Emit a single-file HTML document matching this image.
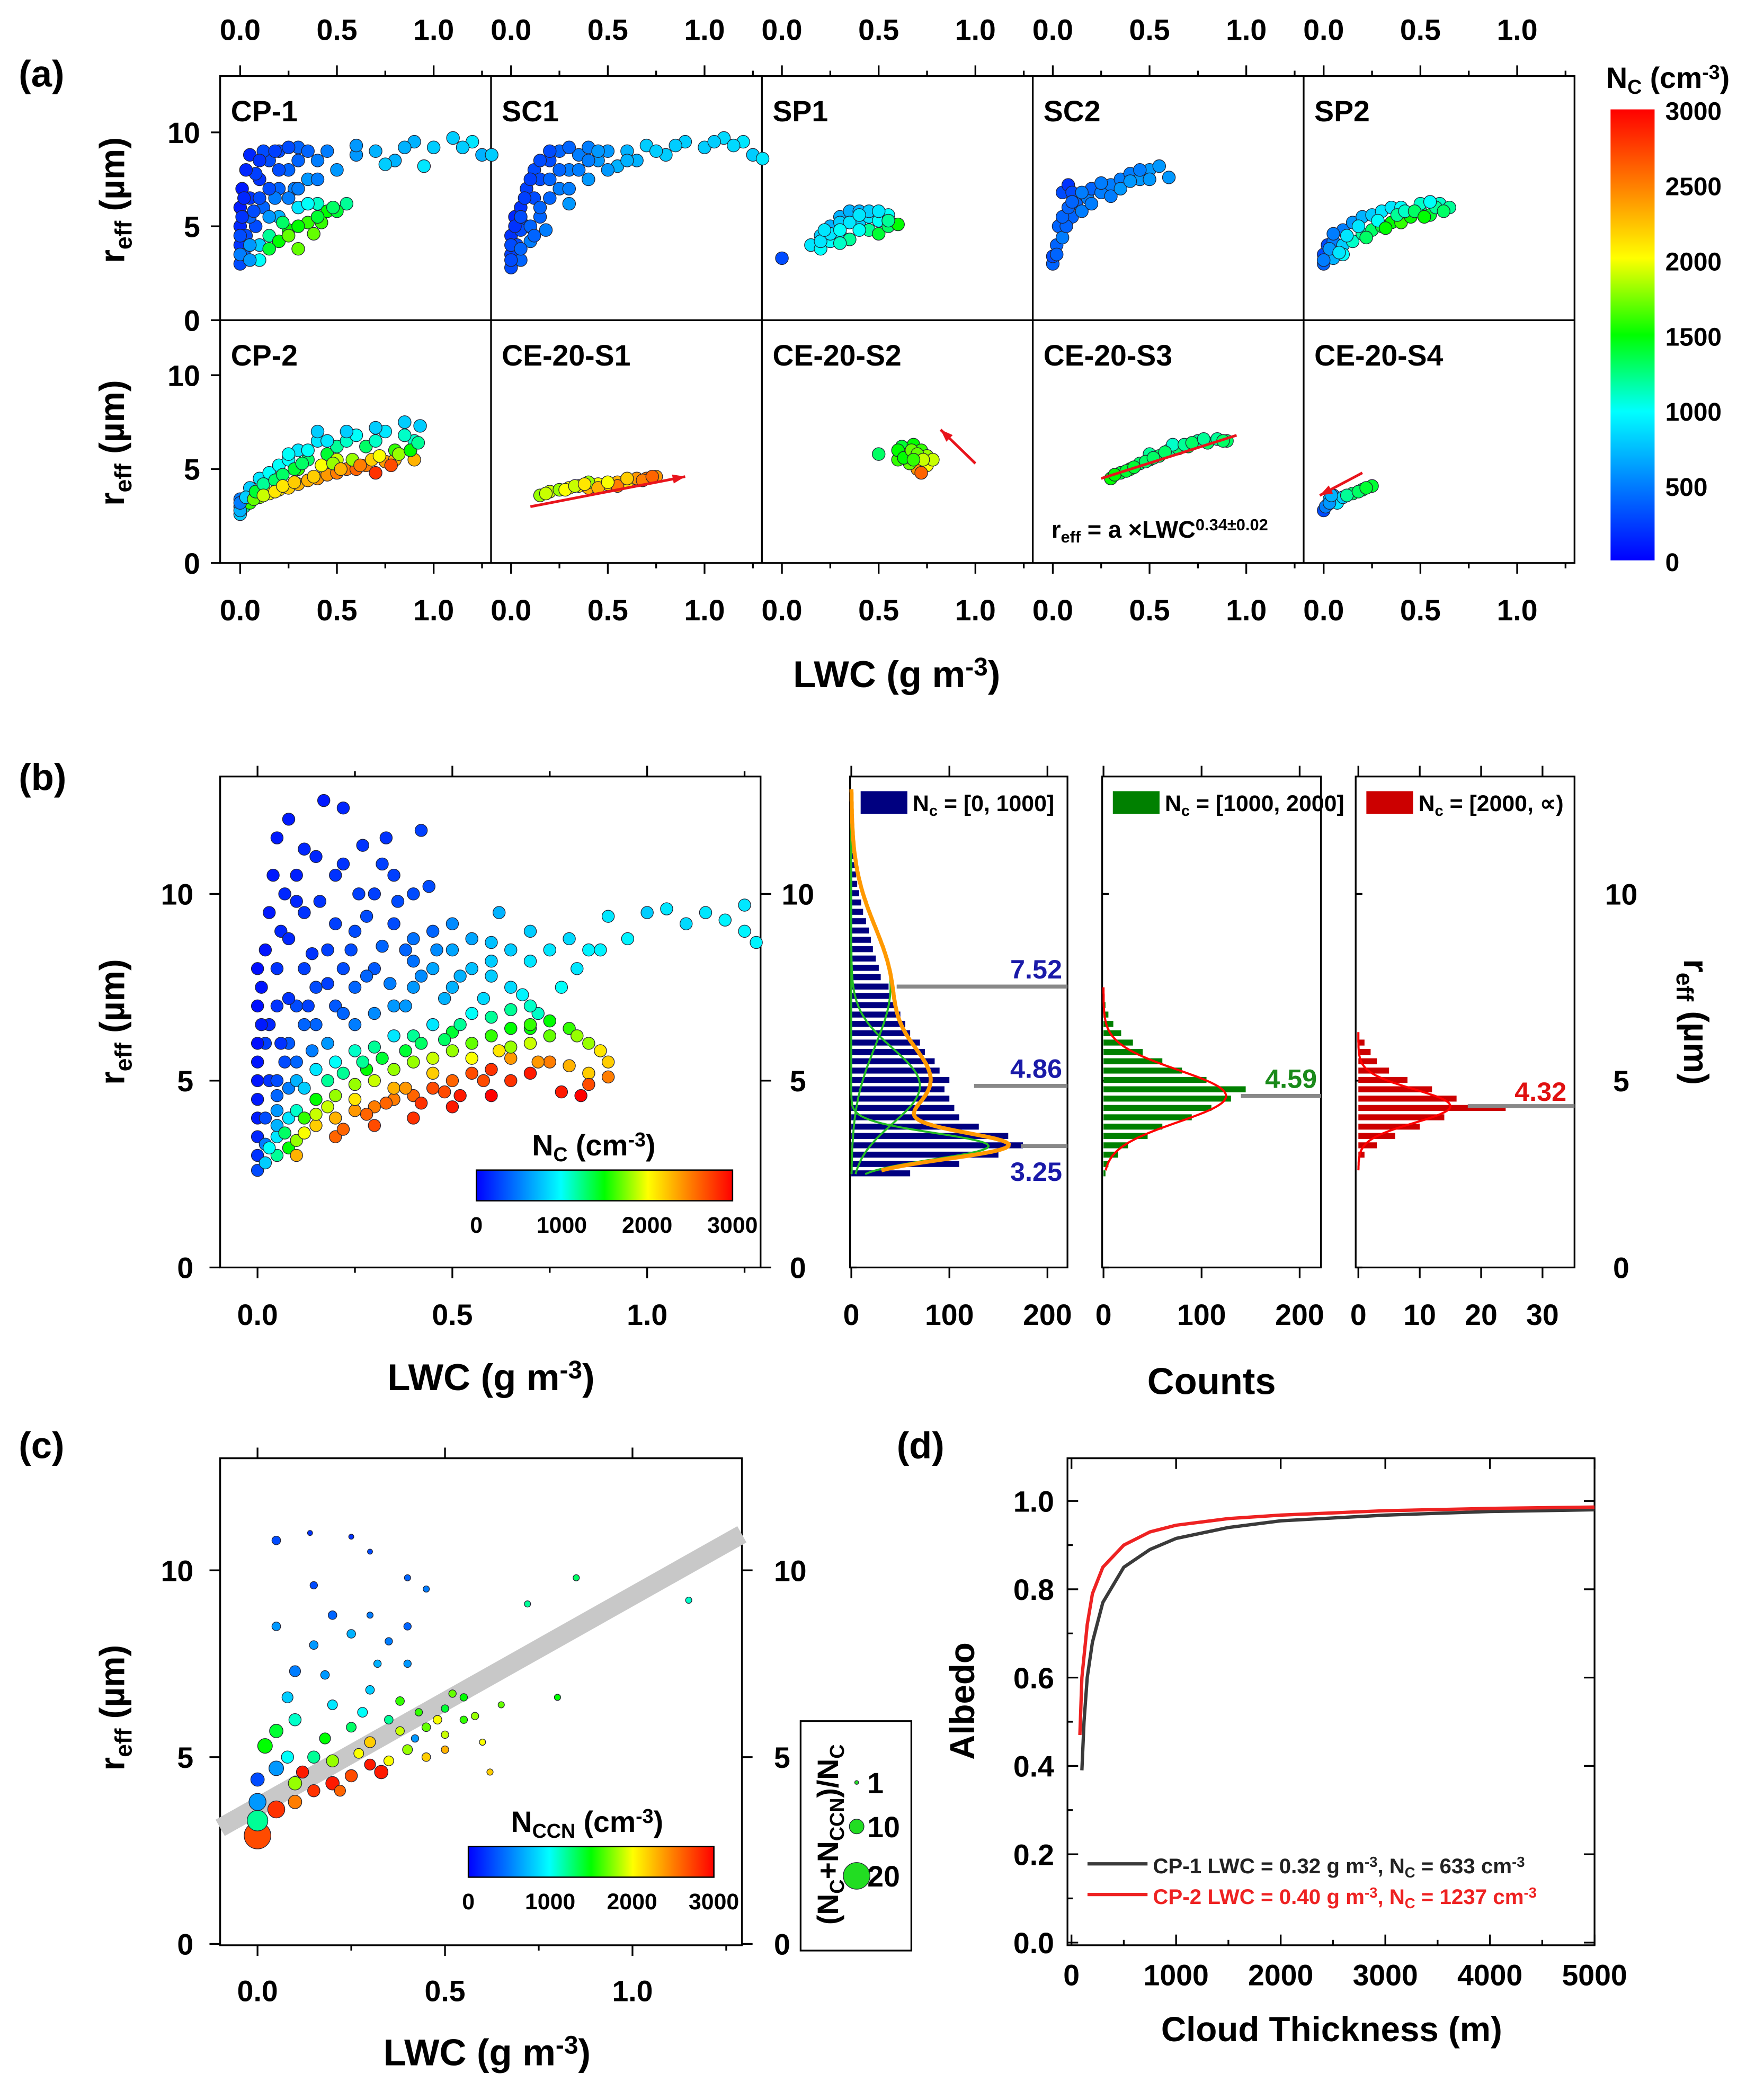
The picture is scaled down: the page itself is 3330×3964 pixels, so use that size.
<!DOCTYPE html>
<html><head><meta charset="utf-8"><style>
html,body{margin:0;padding:0;background:#fff;}
svg{display:block;font-family:"Liberation Sans",Arial,sans-serif;font-weight:bold;}
</style></head><body>
<svg id="chart" width="3330" height="3964" viewBox="0 0 1322 1574" preserveAspectRatio="none" xmlns="http://www.w3.org/2000/svg">
<defs>
<linearGradient id="jetV" x1="0" y1="1" x2="0" y2="0">
<stop offset="0" stop-color="#0000ff"/><stop offset="0.17" stop-color="#0080ff"/><stop offset="0.33" stop-color="#00ffff"/><stop offset="0.5" stop-color="#00ff00"/><stop offset="0.67" stop-color="#ffff00"/><stop offset="0.83" stop-color="#ff8000"/><stop offset="1" stop-color="#ff0000"/>
</linearGradient>
<linearGradient id="jetH" x1="0" y1="0" x2="1" y2="0">
<stop offset="0" stop-color="#0000ff"/><stop offset="0.17" stop-color="#0080ff"/><stop offset="0.33" stop-color="#00ffff"/><stop offset="0.5" stop-color="#00ff00"/><stop offset="0.67" stop-color="#ffff00"/><stop offset="0.83" stop-color="#ff8000"/><stop offset="1" stop-color="#ff0000"/>
</linearGradient>
</defs>
<rect x="0" y="0" width="1322" height="1574" fill="#fff"/>
</svg>
<script>
// ---------- DATA ----------
const panelANames=["CP-1","SC1","SP1","SC2","SP2","CP-2","CE-20-S1","CE-20-S2","CE-20-S3","CE-20-S4"];
const aCP1=[[0.0,3,300],[0.0,4,200],[0.0,5,150],[0.0,6,100],[0.01,7,100],[0.02,3.5,400],[0.03,4.5,300],[0.05,6.5,200],[0.05,8.8,150],[0.08,5,300],[0.1,7.5,200],[0.1,4,800],[0.12,6,400],[0.15,8.5,300],[0.15,4.5,1200],[0.2,5.5,700],[0.2,7,400],[0.2,9,300],[0.25,4.8,1500],[0.25,8,400],[0.3,6,900],[0.3,9.2,400],[0.35,5.2,1600],[0.35,7.5,600],[0.4,8.5,500],[0.4,6.2,1100],[0.45,5.8,1500],[0.45,9,500],[0.5,8,600],[0.55,6.2,1200],[0.6,8.8,600],[0.7,9,700],[0.8,8.5,700],[0.9,9.5,700],[1.0,9.2,800],[1.1,9.7,800],[1.2,9.5,900],[1.25,8.8,700],[0.95,8.2,900],[0.3,3.8,1700],[0.1,3.2,1000],[0.05,5.5,400],[0.18,6.5,500],[0.28,7,500],[0.38,4.6,1700],[0.42,5.2,1600],[0.5,5.8,1400],[0.08,7.8,250],[0.12,9,300],[0.22,5.2,1300],
[0.0,3.5,500],[0.0,4.5,300],[0.01,5.5,200],[0.02,6.5,150],[0.03,8,150],[0.05,4,600],[0.07,5.8,300],[0.1,6.5,300],[0.1,8.5,200],[0.15,7,300],[0.15,5.5,600],[0.18,9,250],[0.2,8,300],[0.25,6.5,500],[0.25,9.2,300],[0.3,8.5,400],[0.3,7,500],[0.35,9,400],[0.35,6.2,1000],[0.4,7.5,500],[0.2,4.2,1500],[0.25,4.5,1700],[0.3,5,1500],[0.4,5.5,1400],[0.48,6,1300],[0.15,3.8,1400],[0.6,9.3,600],[0.75,8.3,800],[0.85,9.2,700],[1.15,9.2,800],[1.3,8.8,800],[0.05,3.2,600]];
const aSC1=[[0.0,2.8,300],[0.0,3.5,250],[0.0,4.5,200],[0.02,5.5,150],[0.03,4,300],[0.05,3.2,400],[0.05,6,200],[0.08,5,300],[0.08,7,250],[0.1,4.2,500],[0.12,6.5,300],[0.12,8,300],[0.15,5.5,400],[0.15,7.5,300],[0.2,6.5,400],[0.2,8.5,300],[0.25,7,500],[0.25,9,400],[0.3,8,500],[0.3,6.2,600],[0.35,8.8,500],[0.4,7.5,600],[0.4,9.2,500],[0.45,8.5,600],[0.5,9,600],[0.55,8.2,700],[0.6,9,700],[0.7,9.3,800],[0.8,8.8,800],[0.9,9.5,800],[1.0,9.2,800],[1.1,9.7,850],[1.2,9.5,900],[1.25,8.8,800],[0.65,8.5,700],[0.18,4.8,500],[0.05,4.8,300],
[0.0,3.2,300],[0.0,4,300],[0.02,5,200],[0.05,5.5,300],[0.07,6.5,250],[0.1,7.5,250],[0.1,5,400],[0.15,8.5,300],[0.15,6,400],[0.2,9,300],[0.2,7.5,400],[0.25,8,400],[0.3,9.2,400],[0.3,7,500],[0.35,8,500],[0.4,8.5,500],[0.45,9,600],[0.5,8,600],[0.6,8.5,700],[0.75,9,800],[0.85,9.3,800],[1.05,9.5,800],[1.15,9.3,850],[1.3,8.6,900],[0.05,3.8,400],[0.12,4.5,400]];
const aSP1=[[0.0,3.3,300],[0.15,4,900],[0.2,4.5,800],[0.2,3.8,1000],[0.25,5,700],[0.25,4.2,1000],[0.3,5.5,700],[0.3,4.6,900],[0.35,5.8,700],[0.35,4.3,1200],[0.4,5.2,800],[0.4,5.8,700],[0.45,4.8,1200],[0.45,5.5,900],[0.5,5.3,1000],[0.5,4.6,1400],[0.55,5,1300],[0.55,5.6,1000],[0.6,5.1,1500],[0.3,4.1,1100],
[0.2,4.2,900],[0.25,4.6,900],[0.3,5.2,800],[0.35,5.2,900],[0.4,4.8,1000],[0.45,5.8,800],[0.5,5.8,900],[0.55,5.3,1200],[0.4,5.6,900],[0.3,4.8,1000],[0.22,4.8,900]];
const aSC2=[[0.0,3,400],[0.0,3.4,300],[0.02,4,400],[0.03,5,400],[0.05,4.4,500],[0.05,6.8,300],[0.08,7.2,200],[0.1,5.5,400],[0.12,6.2,400],[0.15,5.8,500],[0.18,6.5,500],[0.2,7,400],[0.25,6.8,500],[0.3,7.2,500],[0.35,7.5,500],[0.4,7.8,500],[0.45,7.5,600],[0.5,8,600],[0.55,8.2,600],[0.6,7.6,600],[0.1,6.8,300],[0.07,5,400],
[0.02,3.5,400],[0.05,5.5,400],[0.08,6,400],[0.1,6.3,400],[0.15,6.8,500],[0.2,6.2,500],[0.25,7.3,500],[0.3,6.6,500],[0.35,7,600],[0.4,7.4,600],[0.45,8,500],[0.5,7.5,600]];
const aSP2=[[0.0,3,400],[0.0,3.5,300],[0.02,4,300],[0.05,3.3,700],[0.05,4.2,500],[0.1,4,800],[0.1,4.8,500],[0.15,4.2,1100],[0.15,5.2,600],[0.2,4.6,1200],[0.2,5.5,700],[0.25,4.8,1300],[0.25,5.6,800],[0.3,5,1400],[0.3,5.8,900],[0.35,5.2,1500],[0.35,6,900],[0.4,5.2,1600],[0.4,6,1000],[0.45,5.5,1500],[0.5,5.8,1300],[0.5,6.2,1100],[0.55,5.6,1400],[0.6,6.2,1100],[0.65,6,1200],[0.1,3.5,1000],
[0.0,3.2,500],[0.03,3.8,600],[0.05,4.6,500],[0.08,3.6,900],[0.12,4.5,900],[0.18,5,900],[0.22,4.4,1300],[0.28,5.3,1000],[0.32,4.9,1500],[0.38,5.6,1200],[0.42,5.8,1100],[0.47,5.8,1300],[0.52,5.5,1500],[0.58,6,1200],[0.62,5.8,1300],[0.55,6.3,1000]];
const aCP2=[[0.0,2.6,800],[0.0,3,600],[0.0,3.4,500],[0.02,3,1200],[0.05,3.2,1600],[0.05,4,800],[0.1,3.5,1800],[0.1,4.5,900],[0.15,3.7,2000],[0.15,4.8,1000],[0.2,3.9,2100],[0.2,5.2,1000],[0.25,4,2200],[0.25,5.5,1000],[0.3,4.2,2300],[0.3,6,900],[0.35,4.4,2300],[0.35,5.5,1300],[0.4,4.5,2400],[0.4,6.5,900],[0.4,7,800],[0.45,4.7,2400],[0.45,5.8,1400],[0.5,4.8,2500],[0.5,6.2,1200],[0.55,5,2500],[0.55,6.5,1100],[0.6,5,2600],[0.6,6.8,1000],[0.65,5.2,2500],[0.65,6.2,1300],[0.7,4.8,2800],[0.7,6.5,1100],[0.75,5.4,2400],[0.75,7,900],[0.8,5.5,2300],[0.8,6,1600],[0.85,7.5,800],[0.9,5.5,2300],[0.9,6.5,1100],[0.93,7.3,800],[0.3,5,1600],[0.2,4.5,1800],[0.5,5.5,1900],
[0.0,2.8,700],[0.0,3.2,500],[0.03,3.5,800],[0.07,3.4,1700],[0.08,3.8,1400],[0.12,4.2,1200],[0.12,3.6,1900],[0.18,4.4,1300],[0.18,3.8,2100],[0.22,4.7,1300],[0.22,4.1,2100],[0.28,5,1400],[0.28,4.3,2200],[0.32,5.3,1300],[0.38,4.6,2200],[0.42,5.2,2000],[0.48,5.3,1800],[0.52,5,2300],[0.58,5.5,1800],[0.62,5.2,2500],[0.68,5.5,2200],[0.72,5.7,2000],[0.78,5.2,2700],[0.82,5.8,1800],[0.88,6,1500],[0.45,6.5,900],[0.55,7,800],[0.7,7.2,800],[0.85,6.8,1100],[0.92,6.4,1200],[0.35,6,1000],[0.25,5.8,1000]];
const aS1=[[0.15,3.6,1800],[0.2,3.8,1900],[0.25,3.9,1800],[0.3,4.0,2000],[0.35,4.1,2100],[0.4,4.0,2300],[0.45,4.2,2000],[0.5,4.2,2200],[0.55,4.3,2300],[0.6,4.3,2100],[0.65,4.5,2400],[0.7,4.5,2500],[0.75,4.6,2400],[0.4,4.3,1800],[0.55,4.1,2500],
[0.18,3.7,1900],[0.28,3.9,2000],[0.33,4.1,1900],[0.38,4.2,2100],[0.45,4.0,2300],[0.5,4.3,2000],[0.6,4.5,2200],[0.68,4.4,2500],[0.73,4.6,2600]];
const aS2=[[0.5,5.8,1300],[0.6,5.5,1600],[0.62,6.2,1400],[0.65,5.8,1700],[0.68,6.3,1500],[0.7,5.5,1800],[0.72,6,1600],[0.75,5.2,2000],[0.75,5.7,1800],[0.7,5,2400],[0.72,4.8,2600],[0.78,5.5,1900],[0.66,5.3,1700],
[0.6,6,1500],[0.63,5.6,1500],[0.67,6,1700],[0.7,5.8,1700],[0.73,5.5,1900],[0.68,5.5,1600]];
const aS3=[[0.3,4.5,1500],[0.35,4.8,1400],[0.4,5,1500],[0.45,5.3,1300],[0.5,5.5,1400],[0.55,5.7,1300],[0.6,6,1200],[0.65,6.1,1300],[0.7,6.2,1400],[0.75,6.5,1200],[0.8,6.4,1300],[0.85,6.6,1200],[0.9,6.5,1300],[0.5,5.8,1200],[0.62,6.3,1100],
[0.32,4.7,1500],[0.38,4.9,1400],[0.42,5.1,1400],[0.48,5.4,1300],[0.52,5.6,1300],[0.58,5.9,1300],[0.68,6.3,1200],[0.72,6.4,1300],[0.78,6.6,1200],[0.88,6.5,1300]];
const aS4=[[0.0,2.8,300],[0.02,3.1,500],[0.03,3.4,700],[0.05,3.6,600],[0.07,3.2,900],[0.15,3.7,1300],[0.2,3.9,1300],[0.25,4.1,1400],[0.1,3.5,800],
[0.01,3,500],[0.03,3.2,600],[0.04,3.6,700],[0.12,3.6,1200],[0.18,3.8,1300],[0.22,4,1400]];
const panelAData=[aCP1,aSC1,aSP1,aSC2,aSP2,aCP2,aS1,aS2,aS3,aS4];
const aTicksX=[0,0.5,1.0];
const aTickLabelsX=["0.0","0.5","1.0"];
const aTicksY=[0,5,10];
const cbTicks=[0,500,1000,1500,2000,2500,3000];
const bPoints=[[0.05,8,200],[0.07,10,150],[0.08,12,100],[0.1,7,300],[0.12,9.5,200],[0.15,11,150],[0.17,12.5,100],[0.18,8.5,250],[0.2,10.5,200],[0.22,12.3,150],[0.25,9,300],[0.27,11.3,200],[0.3,8,350],[0.3,10,250],[0.33,11.5,200],[0.35,9.2,300],[0.38,8.5,400],[0.4,10,300],[0.42,11.7,250],[0.45,9,400],[0.02,6,250],[0.05,7,200],[0.08,6,350],[0.1,5.5,400],[0.12,8,250],[0.15,6.5,400],[0.2,7,350],[0.25,6.5,500],[0.25,7.5,400],[0.3,6.8,550],[0.35,7,600],[0.4,7.5,600],[0.45,8,650],[0.5,8.5,650],[0.5,7.5,700],[0.55,8,750],[0.6,8.7,750],[0.65,7.5,850],[0.7,9,800],[0.75,8.5,900],[0.8,8.8,850],[0.85,8.5,950],[0.9,9.4,900],[0.95,8.8,950],[1.0,9.5,800],[1.05,9.6,900],[1.1,9.2,850],[1.15,9.5,900],[1.2,9.3,950],[1.25,9.7,900],[1.25,9,950],[1.28,8.7,950],[0.0,2.6,300],[0.0,3,200],[0.0,3.5,150],[0.0,4,100],[0.0,4.5,100],[0.0,5,80],[0.0,5.5,80],[0.0,6,60],[0.0,7,60],[0.0,8,50],[0.02,2.8,800],[0.02,3.3,500],[0.02,4,300],[0.03,5,200],[0.05,3,1200],[0.05,3.5,900],[0.05,4.2,600],[0.05,5,300],[0.08,3.2,1500],[0.08,4,900],[0.08,4.8,500],[0.1,3.4,1800],[0.1,4.2,1100],[0.1,5,700],[0.12,3.6,2000],[0.15,3.8,2200],[0.15,4.5,1500],[0.15,5.3,900],[0.2,4,2300],[0.2,4.6,1800],[0.2,5.5,1000],[0.25,4.2,2400],[0.25,4.9,1800],[0.25,5.8,1100],[0.3,4.3,2500],[0.3,5,1900],[0.3,5.9,1200],[0.35,4.5,2500],[0.35,5.3,1800],[0.4,4.6,2600],[0.4,5.5,1800],[0.4,6.2,1200],[0.45,4.8,2700],[0.45,5.6,1900],[0.5,5,2600],[0.5,5.8,1800],[0.5,6.3,1400],[0.55,5.2,2700],[0.55,6,1700],[0.6,5.3,2800],[0.6,6.2,1600],[0.65,5.6,2400],[0.65,6.4,1500],[0.7,5.2,2900],[0.7,6,1900],[0.75,5.5,2500],[0.75,6.2,1700],[0.8,5.4,2300],[0.8,6.4,1600],[0.85,5.2,2200],[0.85,6,1800],[0.9,5.5,2200],[0.78,4.7,2900],[0.83,4.6,3000],[0.6,4.6,3000],[0.5,4.3,2900],[0.4,4,2800],[0.3,3.8,2700],[0.2,3.5,2600],[0.1,3,2300],[0.12,6.5,400],[0.18,6,600],[0.35,6.2,900],[0.45,6.5,900],[0.55,6.8,1000],[0.28,5.3,1500],[0.03,6.5,150],[0.06,9,150],[0.1,10.5,120],[0.15,7.5,300],[0.22,8,300],[0.35,10.5,250],[0.4,8.2,450],[0.6,7.8,800],[0.05,3.8,700],[0.15,4.1,1900],[0.25,4.5,2100],[0.35,4.8,2300],[0.45,5.2,2200],[0.55,5.6,2000],[0.65,5.9,1800],[0.7,6.4,1500],
[0.01,6.5,100],[0.01,7.5,80],[0.02,8.5,80],[0.03,9.5,100],[0.04,10.5,100],[0.05,11.5,100],[0.06,6,200],[0.08,7.2,200],[0.08,8.8,150],[0.1,9.8,150],[0.12,11.2,150],[0.13,7,250],[0.14,8.4,200],[0.16,9.8,200],[0.18,7.6,250],[0.2,9.2,250],[0.22,6.8,400],[0.22,10.8,200],[0.24,8.5,300],[0.26,10,250],[0.28,7.8,400],[0.28,9.4,300],[0.32,8.6,400],[0.32,10.8,250],[0.34,7.6,500],[0.36,9.8,300],[0.38,7,600],[0.4,8.8,450],[0.42,7.8,550],[0.44,10.2,300],[0.46,8.5,550],[0.48,7.2,700],[0.5,9.2,550],[0.52,7.8,700],[0.55,8.8,650],[0.58,7.2,850],[0.6,8.2,800],[0.62,9.5,700],[0.65,8.5,800],[0.68,7.3,950],[0.7,8.2,900],[0.72,6.8,1100],[0.78,7.5,1000],[0.82,8,900],[0.88,8.5,950],[0.05,4.6,400],[0.07,5.5,300],[0.12,4.8,800],[0.14,5.8,500],[0.18,5,1200],[0.22,5.2,1200],[0.27,5.5,1200],[0.32,5.6,1400],[0.38,5.8,1400],[0.42,6,1300],[0.48,6.1,1300],[0.52,6.5,1200],[0.6,6.7,1200],[0.65,6.9,1200],[0.7,7,1100],[0.75,6.6,1500],[0.82,6.2,1800],[0.88,5.8,2100],[0.03,3.2,1000],[0.07,3.6,1300],[0.12,4,1600],[0.18,4.3,1900],[0.22,3.7,2600],[0.28,4.1,2600],[0.33,4.4,2600],[0.38,4.8,2400],[0.42,4.4,2800],[0.48,4.7,2700],[0.52,4.6,2900],[0.58,5,2700],[0.65,5,2800],[0.72,5.5,2400],[0.85,4.9,2700],[0.9,5.1,2500],[0.62,5.8,2100],[0.7,6.5,1600]];
const hBins1=[2.5,2.75,3.0,3.25,3.5,3.75,4.0,4.25,4.5,4.75,5.0,5.25,5.5,5.75,6.0,6.25,6.5,6.75,7.0,7.25,7.5,7.75,8.0,8.25,8.5,8.75,9.0,9.25,9.5,9.75,10.0,10.25,10.5,10.75,11.0,11.25,11.5,11.75,12.0,12.25,12.5];
const hCounts1=[60,110,150,175,160,130,110,105,100,95,100,90,85,75,70,60,55,50,45,40,38,30,28,25,22,20,18,15,12,10,8,6,5,4,3,2,2,1,1,1,1];
const hBins2=[2.5,2.75,3.0,3.25,3.5,3.75,4.0,4.25,4.5,4.75,5.0,5.25,5.5,5.75,6.0,6.25,6.5,6.75,7.0];
const hCounts2=[2,5,15,25,45,60,90,110,130,145,105,80,60,40,30,18,10,5,2];
const hBins3=[3.0,3.25,3.5,3.75,4.0,4.25,4.5,4.75,5.0,5.25,5.5,5.75,6.0];
const hCounts3=[1,3,6,10,14,24,16,12,8,5,3,2,1];
const fit1Mu=[3.25,4.86,7.52];
const fit1Sigma=[0.35,1.0,1.6];
const fit1Amp=[140,70,40];
const fit2=[4.59,0.7,125];
const fit3=[4.32,0.45,15];
const cPoints=[[0.0,2.9,2700,20],[0.0,3.3,1200,15],[0.0,3.8,600,12],[0.0,4.4,300,9],[0.02,5.3,1500,10],[0.05,3.6,2800,12],[0.05,4.7,600,10],[0.05,5.7,1400,9],[0.1,3.8,2500,9],[0.1,4.3,1800,9],[0.1,6,1100,8],[0.1,7.3,500,7],[0.15,4.1,2800,8],[0.15,5,1200,8],[0.15,8,600,5],[0.2,4.3,2900,9],[0.2,4.9,1800,8],[0.2,6.4,900,6],[0.25,4.5,2700,8],[0.25,5.8,1300,6],[0.25,8.3,700,5],[0.3,4.8,2900,7],[0.3,5.4,2200,7],[0.3,6.8,800,5],[0.35,4.9,2000,6],[0.35,6,1200,5],[0.4,5.2,1800,6],[0.4,7.5,600,4],[0.45,5,2200,5],[0.45,5.8,1700,5],[0.5,5.6,1900,4],[0.5,6.3,1400,4],[0.55,6,1600,4],[0.55,6.6,1500,4],[0.6,5.4,2000,3],[0.65,6.4,1700,3],[0.72,9.1,1200,3],[0.8,6.6,1500,3],[0.85,9.8,1300,3],[1.15,9.2,1100,3],[0.05,10.8,300,5],[0.14,11,200,2],[0.25,10.9,200,2],[0.3,10.5,300,2],[0.45,9.5,500,3],[0.2,8.8,400,5],[0.35,8.1,500,4],[0.4,8.5,400,4],[0.15,9.6,300,4],[0.05,8.5,600,5],[0.28,6.2,1000,6],[0.33,4.6,2900,9],[0.42,5.5,600,4],[0.5,5.2,2300,4],[0.62,4.6,2200,3],[0.08,5,1000,8],[0.18,5.5,1500,7],[0.38,6.5,1600,5],[0.48,6,2000,5],
[0.12,4.6,2900,8],[0.22,4.1,2600,7],[0.27,5.1,2000,6],[0.32,7.5,700,4],[0.18,7.2,600,5],[0.08,6.6,800,7],[0.43,6.2,1600,4],[0.52,6.7,1700,4],[0.58,6.1,1800,4],[0.38,5.7,1900,5],[0.3,8.8,500,3],[0.4,9.8,400,3]];
const dThick1=[100,120,150,200,300,500,750,1000,1500,2000,3000,4000,5000];
const dAlb1=[0.39,0.5,0.6,0.68,0.77,0.85,0.89,0.915,0.94,0.955,0.968,0.976,0.98];
const dThick2=[80,100,150,200,300,500,750,1000,1500,2000,3000,4000,5000];
const dAlb2=[0.47,0.6,0.72,0.79,0.85,0.9,0.93,0.945,0.96,0.968,0.978,0.983,0.986];

// ---------- HELPERS ----------
const NS='http://www.w3.org/2000/svg';
const svg=document.getElementById('chart');
function mk(tag,attrs,name,parent){
  const e=document.createElementNS(NS,tag);
  for(const k in attrs)e.setAttribute(k,attrs[k]);
  
  
  (parent||svg).appendChild(e);return e;
}
function txt(x,y,parts,size,name,opts){
  opts=opts||{};
  const a={x:x,y:y,'font-size':size,fill:opts.fill||'#000','text-anchor':opts.anchor||'start'};
  if(opts.rot)a.transform='rotate('+opts.rot+' '+x+' '+y+')';
  const t=mk('text',a,name);
  if(typeof parts==='string')parts=[[parts,'']];
  parts.forEach(p=>{
    const s=document.createElementNS(NS,'tspan');
    s.textContent=p[0];
    if(p[1]==='sub'){s.setAttribute('baseline-shift','-30%');s.setAttribute('font-size',size*0.68);}
    if(p[1]==='sup'){s.setAttribute('baseline-shift','45%');s.setAttribute('font-size',size*0.68);}
    t.appendChild(s);
  });
  return t;
}
const jet=[[0,[0,0,255]],[0.17,[0,128,255]],[0.33,[0,255,255]],[0.5,[0,255,0]],[0.67,[255,255,0]],[0.83,[255,128,0]],[1,[255,0,0]]];
function cmap(v){
  let f=Math.max(0,Math.min(1,v/3000));
  for(let i=1;i<jet.length;i++){if(f<=jet[i][0]){const a=jet[i-1],b=jet[i];const t=(f-a[0])/(b[0]-a[0]);
    const c=a[1].map((x,k)=>Math.round(x+(b[1][k]-x)*t));return 'rgb('+c.join(',')+')';}}
  return 'rgb(255,0,0)';
}
function line(x1,y1,x2,y2,name,stroke,w){return mk('line',{x1:x1,y1:y1,x2:x2,y2:y2,stroke:stroke||'#000','stroke-width':w||1.3},name);}
function box(x0,y0,x1,y1,name){return mk('rect',{x:x0,y:y0,width:x1-x0,height:y1-y0,fill:'none',stroke:'#000','stroke-width':1.3},name);}
function gauss(r,mu,s,a){return a*Math.exp(-0.5*((r-mu)/s)**2);}

// ---------- PANEL (a) ----------
txt(14,65,'(a)',28,'panel-a-label');
const colL=[165,368,571,774,977],rowB=[240,422];
const aPX=145,aPY=14.08;
box(165,57,1180,422,'panel-a-frame');
line(165,240,1180,240,'panel-a-row-divider');
for(let c=1;c<5;c++){line(colL[c],57,colL[c],422,'panel-a-col-divider');}
for(let c=0;c<5;c++){
  const sx=v=>colL[c]+15+v*aPX;
  aTicksX.forEach((v,i)=>{
    line(sx(v),57,sx(v),49,'top-tick');line(sx(v),422,sx(v),430,'bottom-tick');
    txt(sx(v),30,aTickLabelsX[i],22,'top-tick-label',{anchor:'middle'});
    txt(sx(v),465,aTickLabelsX[i],22,'bottom-tick-label',{anchor:'middle'});
  });
  [0.25,0.75,1.25].forEach(v=>{line(sx(v),57,sx(v),53,'top-minor-tick');line(sx(v),422,sx(v),426,'bottom-minor-tick');});
}
for(let r=0;r<2;r++){
  aTicksY.forEach(v=>{const y=rowB[r]-v*aPY;line(165,y,158,y,'y-tick');txt(150,y+8,String(v),22,'y-tick-label',{anchor:'end'});});
  txt(93,r===0?150:332,[['r',''],['eff','sub'],[' (\u00b5m)','']],26,'y-axis-title-a',{anchor:'middle',rot:-90});
}
panelAData.forEach((pts,idx)=>{
  const c=idx%5,r=Math.floor(idx/5);
  const sx=v=>colL[c]+15+v*aPX, sy=v=>rowB[r]-v*aPY;
  txt(colL[c]+8,(r===0?57:240)+34,panelANames[idx],22,'subplot-title');
  const g=mk('g',{},'scatter-'+panelANames[idx].toLowerCase());
  pts.forEach(p=>{mk('circle',{cx:sx(p[0]),cy:sy(p[1]),r:4.8,fill:cmap(p[2]),stroke:'#223','stroke-width':0.5},'data-point',g);});
});
function arrow(x1,y1,x2,y2,name){
  line(x1,y1,x2,y2,name,'#e8141c',2);
  const a=Math.atan2(y2-y1,x2-x1),L=10;
  mk('polygon',{points:[[x2,y2],[x2-L*Math.cos(a-0.35),y2-L*Math.sin(a-0.35)],[x2-L*Math.cos(a+0.35),y2-L*Math.sin(a+0.35)]].map(p=>p.join(',')).join(' '),fill:'#e8141c'},name+'-head');
}
{const sx=v=>colL[1]+15+v*aPX,sy=v=>rowB[1]-v*aPY;arrow(sx(0.1),sy(3),sx(0.9),sy(4.6),'trend-arrow-s1');}
{const sx=v=>colL[2]+15+v*aPX,sy=v=>rowB[1]-v*aPY;arrow(sx(1.0),sy(5.3),sx(0.82),sy(7.1),'trend-arrow-s2');}
{const sx=v=>colL[3]+15+v*aPX,sy=v=>rowB[1]-v*aPY;line(sx(0.25),sy(4.5),sx(0.95),sy(6.8),'fit-line-s3','#e8141c',2);
 txt(colL[3]+14,403,[['r',''],['eff','sub'],[' = a \u00d7LWC',''],['0.34\u00b10.02','sup']],18,'power-law-annotation');}
{const sx=v=>colL[4]+15+v*aPX,sy=v=>rowB[1]-v*aPY;arrow(sx(0.2),sy(4.8),sx(-0.02),sy(3.6),'trend-arrow-s4');}
txt(672,515,[['LWC (g m',''],['-3','sup'],[')','']],28,'x-axis-title-a',{anchor:'middle'});
mk('rect',{x:1207,y:82,width:33,height:338,fill:'url(#jetV)'},'colorbar-a');
cbTicks.forEach(v=>{const y=420-v/3000*338;txt(1248,y+8,String(v),19,'colorbar-tick-label');});
txt(1250,66,[['N',''],['C','sub'],[' (cm',''],['-3','sup'],[')','']],22,'colorbar-title-a',{anchor:'middle'});

// ---------- PANEL (b) scatter ----------
txt(14,592,'(b)',28,'panel-b-label');
const bx=v=>193+v*292, by=v=>950-v*28;
box(165,582,570,950,'panel-b-frame');
[0,0.5,1.0].forEach((v,i)=>{line(bx(v),950,bx(v),958,'x-tick');line(bx(v),582,bx(v),574,'x-tick-top');txt(bx(v),993,aTickLabelsX[i],22,'x-tick-label',{anchor:'middle'});});
[0.25,0.75,1.25].forEach(v=>{line(bx(v),950,bx(v),954,'x-minor-tick');line(bx(v),582,bx(v),578,'x-minor-tick-top');});
aTicksY.forEach(v=>{line(165,by(v),157,by(v),'y-tick');line(570,by(v),578,by(v),'y-tick-right');txt(145,by(v)+8,String(v),22,'y-tick-label',{anchor:'end'});});
txt(93,766,[['r',''],['eff','sub'],[' (\u00b5m)','']],26,'y-axis-title-b',{anchor:'middle',rot:-90});
txt(368,1042,[['LWC (g m',''],['-3','sup'],[')','']],28,'x-axis-title-b',{anchor:'middle'});
{const g=mk('g',{},'scatter-all-flights');
 bPoints.forEach(p=>{mk('circle',{cx:bx(p[0]),cy:by(p[1]),r:4.6,fill:cmap(p[2]),stroke:'#223','stroke-width':0.5},'data-point',g);});}
mk('rect',{x:357,y:877,width:192,height:23,fill:'url(#jetH)',stroke:'#000','stroke-width':1},'colorbar-b');
[0,1000,2000,3000].forEach(v=>{txt(357+v/3000*192,924,String(v),17,'colorbar-b-tick-label',{anchor:'middle'});});
txt(445,866,[['N',''],['C','sub'],[' (cm',''],['-3','sup'],[')','']],22,'colorbar-title-b',{anchor:'middle'});

// ---------- PANEL (b) histograms ----------
const hp=[{x0:637,x1:800,zero:638,k:0.735,bins:hBins1,counts:hCounts1,color:'#000080',ticks:[0,100,200]},
          {x0:826,x1:990,zero:827,k:0.735,bins:hBins2,counts:hCounts2,color:'#008000',ticks:[0,100,200]},
          {x0:1016,x1:1180,zero:1018,k:4.6,bins:hBins3,counts:hCounts3,color:'#cc0000',ticks:[0,10,20,30]}];
const legendTxt=[['[0, 1000]'],['[1000, 2000]'],['[2000, \u221d)']];
hp.forEach((h,i)=>{
  box(h.x0,582,h.x1,950,'histogram-frame-'+(i+1));
  h.ticks.forEach(v=>{const x=h.zero+v*h.k;line(x,950,x,958,'hist-x-tick');line(x,582,x,574,'hist-x-tick-top');txt(x,993,String(v),22,'hist-x-tick-label',{anchor:'middle'});});
  aTicksY.forEach(v=>{line(h.x0,by(v),h.x0+5,by(v),'hist-y-tick');});
  const g=mk('g',{},'histogram-bars-'+(i+1));
  h.bins.forEach((b,j)=>{mk('rect',{x:h.zero,y:by(b+0.1),width:h.counts[j]*h.k,height:0.2*28*0.8,fill:h.color},'hist-bar',g);});
  mk('rect',{x:h.x0+8,y:593,width:35,height:17,fill:h.color},'legend-swatch-'+(i+1));
  txt(h.x0+47,608,[['N',''],['c','sub'],[' = '+legendTxt[i][0],'']],17,'legend-entry-'+(i+1));
});
aTicksY.forEach(v=>{txt(598,by(v)+8,String(v),22,'hist-left-y-label',{anchor:'middle'});txt(1215,by(v)+8,String(v),22,'hist-right-y-label',{anchor:'middle'});});
txt(1262,766,[['r',''],['eff','sub'],[' (\u00b5m)','']],26,'y-axis-title-b-right',{anchor:'middle',rot:90});
txt(908,1045,'Counts',28,'x-axis-title-counts',{anchor:'middle'});
function curve(h,fn,r0,r1,stroke,w,name){
  let d='';for(let r=r0;r<=r1+1e-9;r+=0.05){d+=(d?'L':'M')+(h.zero+fn(r)*h.k).toFixed(1)+','+by(r).toFixed(1);}
  mk('path',{d:d,fill:'none',stroke:stroke,'stroke-width':w},name);
}
for(let j=0;j<3;j++){curve(hp[0],r=>gauss(r,fit1Mu[j],fit1Sigma[j],fit1Amp[j]),2.5,12.5,'#22bb22',1.5,'fit-mode-'+(j+1));}
curve(hp[0],r=>fit1Mu.reduce((s,m,j)=>s+gauss(r,m,fit1Sigma[j],fit1Amp[j]),0),2.6,12.8,'#ff9900',3,'fit-total');
curve(hp[1],r=>gauss(r,fit2[0],fit2[1],fit2[2]),2.6,7.5,'#ff0000',1.6,'fit-nc-mid');
curve(hp[2],r=>gauss(r,fit3[0],fit3[1],fit3[2]),2.6,6.3,'#ff0000',1.6,'fit-nc-high');
line(672,by(7.52),800,by(7.52),'mode-line-7.52','#888',3);
line(730,by(4.86),800,by(4.86),'mode-line-4.86','#888',3);
line(765,by(3.25),800,by(3.25),'mode-line-3.25','#888',3);
line(930,by(4.59),990,by(4.59),'mode-line-4.59','#888',3);
line(1100,by(4.32),1180,by(4.32),'mode-line-4.32','#888',3);
txt(796,by(7.52)-6,'7.52',20,'mode-label',{anchor:'end',fill:'#1a1aa8'});
txt(796,by(4.86)-6,'4.86',20,'mode-label',{anchor:'end',fill:'#1a1aa8'});
txt(796,by(3.25)+26,'3.25',20,'mode-label',{anchor:'end',fill:'#1a1aa8'});
txt(987,by(4.59)-6,'4.59',20,'mode-label',{anchor:'end',fill:'#1a8a1a'});
txt(1174,by(4.32)-4,'4.32',20,'mode-label',{anchor:'end',fill:'#e01010'});

// ---------- PANEL (c) ----------
txt(14,1093,'(c)',28,'panel-c-label');
const cx=v=>193+v*281, cy=v=>1457-v*28;
box(165,1093,556,1458,'panel-c-frame');
[0,0.5,1.0].forEach((v,i)=>{line(cx(v),1458,cx(v),1466,'x-tick');line(cx(v),1093,cx(v),1085,'x-tick-top');txt(cx(v),1500,aTickLabelsX[i],22,'x-tick-label',{anchor:'middle'});});
[0.25,0.75,1.25].forEach(v=>{line(cx(v),1458,cx(v),1462,'x-minor-tick');});
aTicksY.forEach(v=>{line(165,cy(v),157,cy(v),'y-tick');line(556,cy(v),564,cy(v),'y-tick-right');txt(145,cy(v)+8,String(v),22,'y-tick-label',{anchor:'end'});txt(580,cy(v)+8,String(v),22,'y-tick-label-right');});
txt(93,1280,[['r',''],['eff','sub'],[' (\u00b5m)','']],26,'y-axis-title-c',{anchor:'middle',rot:-90});
txt(365,1548,[['LWC (g m',''],['-3','sup'],[')','']],28,'x-axis-title-c',{anchor:'middle'});
line(165,1370,556,1150,'trend-band','#c8c8c8',14);
{const g=mk('g',{},'scatter-nccn');
 cPoints.forEach(p=>{mk('circle',{cx:cx(p[0]),cy:cy(p[1]),r:1+p[3]*0.45,fill:cmap(p[2]),stroke:'#223','stroke-width':0.5},'data-point',g);});}
mk('rect',{x:351,y:1384,width:184,height:23,fill:'url(#jetH)',stroke:'#000','stroke-width':1},'colorbar-c');
[0,1000,2000,3000].forEach(v=>{txt(351+v/3000*184,1431,String(v),17,'colorbar-c-tick-label',{anchor:'middle'});});
txt(440,1373,[['N',''],['CCN','sub'],[' (cm',''],['-3','sup'],[')','']],22,'colorbar-title-c',{anchor:'middle'});
box(600,1290,683,1462,'size-legend-box');
txt(628,1375,[['(N',''],['C','sub'],['+N',''],['CCN','sub'],[')/N',''],['C','sub']],22,'size-legend-title',{anchor:'middle',rot:-90});
[[1,1336,'1'],[10,1369,'10'],[20,1406,'20']].forEach(s=>{mk('circle',{cx:642,cy:s[1],r:1+s[0]*0.45,fill:'#22dd22',stroke:'#223','stroke-width':0.5},'size-legend-marker');txt(650,s[1]+8,s[2],22,'size-legend-label');});

// ---------- PANEL (d) ----------
txt(672,1093,'(d)',28,'panel-d-label');
const dx=v=>803+v*0.0784, dy=v=>1456-v*331;
box(800,1093,1195,1458,'panel-d-frame');
[0,1000,2000,3000,4000,5000].forEach(v=>{line(dx(v),1458,dx(v),1450,'x-tick');line(dx(v),1093,dx(v),1101,'x-tick-top');txt(dx(v),1488,String(v),22,'x-tick-label',{anchor:'middle'});});
[500,1500,2500,3500,4500].forEach(v=>{line(dx(v),1458,dx(v),1454,'x-minor-tick');});
[0,0.2,0.4,0.6,0.8,1.0].forEach(v=>{line(800,dy(v),808,dy(v),'y-tick');line(1195,dy(v),1187,dy(v),'y-tick-right');txt(790,dy(v)+8,v.toFixed(1),22,'y-tick-label',{anchor:'end'});});
[0.1,0.3,0.5,0.7,0.9].forEach(v=>{line(800,dy(v),804,dy(v),'y-minor-tick');});
txt(730,1275,'Albedo',26,'y-axis-title-d',{anchor:'middle',rot:-90});
txt(998,1530,'Cloud Thickness (m)',26,'x-axis-title-d',{anchor:'middle'});
function dline(xs,ys,stroke,name){let d='';xs.forEach((x,i)=>{d+=(i?'L':'M')+dx(x).toFixed(1)+','+dy(ys[i]).toFixed(1);});mk('path',{d:d,fill:'none',stroke:stroke,'stroke-width':2.5,'stroke-linejoin':'round'},name);}
dline(dThick1,dAlb1,'#3a3a3a','albedo-cp1');
dline(dThick2,dAlb2,'#ee2222','albedo-cp2');
line(815,1397,860,1397,'legend-line-cp1','#3a3a3a',2.5);
line(815,1420,860,1420,'legend-line-cp2','#ee2222',2.5);
txt(864,1404,[['CP-1 ',''],['LWC = 0.32 g m',''],['-3','sup'],[', N',''],['C','sub'],[' = 633 cm',''],['-3','sup']],16,'legend-entry-cp1',{fill:'#222'});
txt(864,1427,[['CP-2 ',''],['LWC = 0.40 g m',''],['-3','sup'],[', N',''],['C','sub'],[' = 1237 cm',''],['-3','sup']],16,'legend-entry-cp2',{fill:'#ee2222'});
</script>
</body></html>
